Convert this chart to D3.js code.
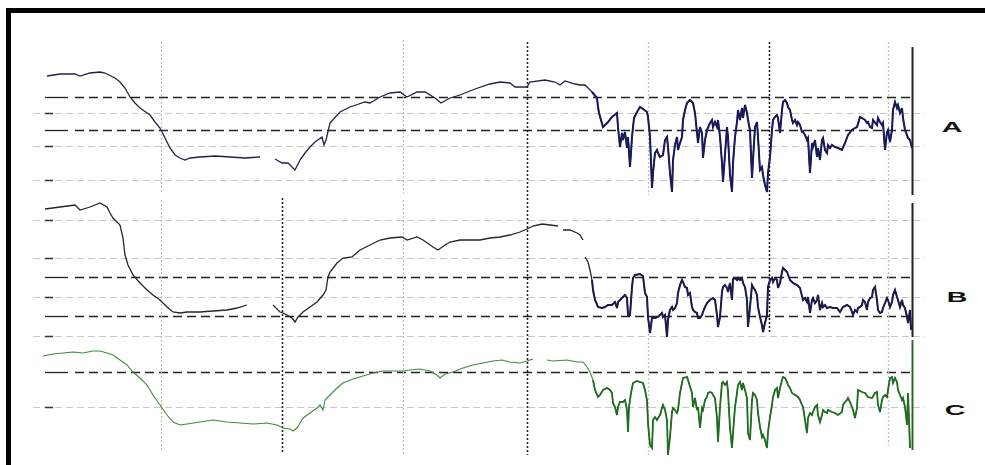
<!DOCTYPE html>
<html>
<head>
<meta charset="utf-8">
<script src="https://cdn.jsdelivr.net/npm/d3@7"></script>
<style>
  body { margin: 0; background: #fff; }
  svg { display: block; }
</style>
</head>
<body>
<div id="chart"></div>
<script>
// spectra, x in channels from the left edge of the trace, y in units down from the top of each panel
const traceA = [[0,16],[13,14],[28,14],[33,16],[43,13],[53,12],[58,13],[68,18],[73,22],[78,28],[83,37],[88,43],[93,48],[103,55],[108,62],[113,68],[118,78],[123,88],[128,95],[133,98],[138,100],[143,98],[153,97],[168,96],[183,97],[198,98],[213,97],null,
  [228,99],[235,103],[241,103],[248,110],[253,100],[258,93],[263,87],[268,82],[275,77],[277,85],[279,80],[283,63],[293,52],[303,47],[318,42],[323,43],[333,37],[343,33],[353,32],[360,37],[370,32],[378,32],[388,38],[394,43],[403,38],[413,35],[428,29],[443,24],[453,22],[463,23],[468,27],[480,27],[483,22],[498,20],[508,22],[513,25],[518,21],[528,24],[533,25],[538,25],[545,32],[550,38],[551,47],[552,53],[556,67],
  [561,62],[565,57],[570,53],[571,67],[573,87],[575,73],[576,80],[578,72],[580,88],[581,77],[583,107],[585,77],[587,58],[590,52],[593,47],[596,49],[600,52],[601,57],[603,77],[605,128],[606,113],[608,93],[610,90],[611,93],[613,97],[616,95],[618,80],[620,77],[621,87],[623,113],[625,132],[626,100],[628,85],[630,77],[631,90],[633,83],[635,77],[636,60],[638,50],[640,43],[643,40],[646,43],[648,53],[650,73],[651,83],[653,67],[655,73],[656,98],[658,80],[660,70],[663,63],[665,60],[666,67],[668,62],[670,67],[671,60],[673,77],[675,103],[676,122],[680,67],[681,77],[683,115],[685,132],[686,103],[688,77],[690,62],[691,50],[693,60],[695,48],[696,58],[698,45],[700,53],[701,60],[703,70],
  [705,118],[706,100],[708,67],[710,62],[711,77],[713,110],[715,107],[716,115],[718,125],[720,132],[721,113],[723,97],[725,70],[726,60],[728,57],[730,55],[731,58],[733,73],[735,50],[736,42],[738,40],[740,43],[741,47],[743,50],[745,60],[746,63],[748,60],[750,65],[751,62],[753,65],[755,72],[756,72],[758,75],[760,80],[761,78],[763,113],[765,83],[766,87],[768,80],[770,97],[771,88],[773,100],[775,80],[776,78],[778,90],[780,93],[781,85],[783,88],[785,85],[788,87],[791,88],[795,90],[798,83],[801,75],[805,70],[808,68],[810,67],[813,57],[815,58],[818,60],[820,63],[821,62],[823,67],[825,68],[826,60],[830,65],[831,58],[833,62],[835,65],[836,63],[838,90],[840,72],[841,70],[843,82],[845,70],[846,50],[848,42],[850,48],[851,45],[853,53],[855,48],[856,58],[858,70],[860,75],[861,78],[863,80],[865,88]];

const traceB = [[-2,9],[13,7],[28,5],[33,10],[43,7],[53,3],[60,7],[63,13],[66,18],[73,25],[76,38],[78,55],[81,65],[86,75],[93,83],[100,90],[106,95],[113,100],[120,107],[126,112],[133,113],[140,112],[153,112],[166,111],[180,110],[190,108],[200,105],null,
  [226,105],[233,112],[236,113],[240,115],[245,118],[248,122],[251,117],[256,112],[263,107],[270,102],[276,95],[279,90],[281,77],[283,72],[290,63],[296,58],[305,57],[313,50],[323,45],[333,40],[343,38],[355,37],[360,40],[370,37],[376,40],[386,47],[391,50],[398,45],[403,42],[413,40],[423,40],[433,40],[443,38],[453,37],[463,35],[473,32],[480,29],[486,26],[495,24],[503,25],[511,26],null,
  [516,30],[523,30],[530,33],[533,35],[536,40],null,
  [538,57],[541,62],[543,70],[545,80],[546,90],[548,100],[551,107],[555,108],[558,107],[561,105],[565,105],[568,102],[570,108],[571,102],[575,98],[578,95],[580,98],[581,115],[583,115],[585,87],[586,78],[588,75],[593,74],[596,76],[598,93],[600,97],[601,117],[603,133],[605,118],[608,118],[611,117],[613,115],[615,113],[616,117],[618,115],[620,137],[621,120],[623,110],[625,107],[626,110],[628,108],[630,103],[631,93],[633,85],[635,80],[636,82],[638,87],[640,88],[641,95],[643,93],[645,107],[646,110],[648,112],[650,113],[651,118],[653,118],[655,115],[656,112],[658,107],[660,103],[663,100],[666,98],[668,100],[670,115],[671,127],[673,117],[675,92],[676,87],[678,85],[680,88],[681,92],[683,83],[685,100],[686,79],[688,78],[690,80],[691,78],[693,80],[695,78],[696,83],[698,87],[700,100],[701,127],[703,107],
  [705,85],[706,87],[708,90],[710,95],[711,107],[713,117],[715,125],[716,132],[718,123],[720,115],[721,87],[723,80],[725,78],[726,82],[728,78],[730,80],[731,88],[733,83],[735,72],[736,68],[738,70],[740,72],null,
  [743,80],[746,83],[750,85],[753,88],null,
  [756,100],[758,98],[760,102],[761,97],[763,113],[765,100],[766,98],[768,103],[770,100],[771,95],[773,110],[775,103],[776,107],[778,105],[780,108],[783,107],[786,108],[790,108],[793,112],[796,107],[800,105],[803,107],[805,112],[806,115],[808,110],[810,112],[811,108],[813,107],[815,105],[816,100],[818,102],[820,110],[821,102],[823,98],[825,97],[826,90],[828,87],[830,100],[831,110],[833,113],[835,112],[836,108],[838,103],[840,98],[841,100],[843,107],[845,102],[846,95],[848,90],[850,97],[851,100],[853,107],[855,100],[856,105],[858,108],[860,117],[861,123],[863,110],[864,130]];

const traceC = [[-4,16],[6,14],[16,13],[26,12],[36,13],[46,11],[53,11],[60,13],[66,15],[73,20],[80,25],[86,32],[93,38],[100,45],[106,55],[113,65],[120,75],[126,82],[133,85],[140,84],[153,82],[166,80],[180,82],[193,83],[206,84],[220,83],[230,85],[236,88],[243,89],[246,91],[250,88],[253,83],[256,78],[263,73],[270,68],[273,65],[276,70],[278,60],[280,58],[283,55],[290,48],[296,43],[306,39],[316,36],[326,33],[336,31],[346,31],[356,31],[363,30],[373,29],[383,31],[390,35],[393,38],[398,34],[406,32],[416,28],[426,25],[436,23],[446,21],[455,20],[463,22],[473,23],[480,21],[486,19],null,
  [500,20],[506,21],[520,20],[530,22],[536,22],[540,27],[543,32],[546,40],[548,50],[551,57],[553,55],[556,50],[560,48],[563,50],[565,53],[566,63],[568,67],[570,75],[571,67],[573,62],[576,62],[578,60],[580,70],[581,92],[582,67],[584,53],[586,43],[590,41],[593,42],[596,43],[598,50],[600,60],[601,83],[603,105],[605,108],[606,80],[608,77],[610,80],[611,78],[613,75],[615,68],[616,65],[618,70],[620,80],[621,115],[623,97],[625,72],[626,68],[628,70],[630,73],[631,70],[633,53],[635,43],[636,38],[640,37],[641,40],[645,53],[646,67],[648,58],[650,70],[651,67],[653,88],[655,68],[656,70],[658,60],[660,57],[661,53],[663,52],[665,53],[666,55],[668,58],[670,78],[671,102],[673,67],[675,43],[676,42],[678,45],[680,42],[681,52],[683,88],[685,108],[686,93],[688,67],[690,53],[691,45],[693,42],[695,50],[696,43],[698,50],[700,58],[701,93],[703,100],
  [705,60],[706,53],[708,55],[710,60],[711,73],[713,87],[715,97],[716,95],[718,100],[720,108],[721,92],[723,77],[725,65],[726,57],[728,50],[730,48],[731,58],[733,48],[735,40],[736,37],[738,38],[740,42],[741,45],[743,48],[745,53],[748,55],[751,57],[753,60],[755,65],[756,67],[758,80],[760,93],[761,78],[763,73],[765,75],[766,72],[768,67],[770,65],[771,75],[773,82],[775,75],[776,70],[778,72],[780,73],[781,70],[785,72],[788,73],[791,75],[795,72],[796,65],[798,62],[800,60],[801,58],[803,62],[805,67],[806,70],[808,78],[810,68],[811,50],[815,52],[818,53],[821,57],[825,58],[828,53],[830,52],[831,65],[833,72],[835,60],[836,57],[838,55],[840,57],[841,50],[843,38],[845,37],[846,43],[848,38],[850,42],[851,50],[853,55],[855,60],[856,58],[858,67],[860,85],[861,53],[862,80],[863,108]];

const labels = ["A", "B", "C"];

// horizontal reference levels per panel (same units as the traces)
const darkLevelsA = [37, 70];
const lightLevelsA = [53, 86, 120];
const darkLevelsB = [77, 116];
const lightLevelsB = [20, 58, 97, 136];
const darkLevelsC = [32];
const lightLevelsC = [67];

// vertical markers in channel units
const lightMarks = [114, 356, 601, 841];
const darkMarks = [235, 480, 722];
const endMark = 865;
// where the noisy (heavier) part of the spectra starts
const noisyFrom = 545;

const width = 985;
const height = 465;

const svg = d3.select("#chart").append("svg").attr("width", width).attr("height", height);

const x = d3.scaleLinear().domain([0, 866]).range([47, 913]);
const panelTops = [60, 200, 340];
const yScales = panelTops.map(t => d3.scaleLinear().domain([0, 150]).range([t, t + 150]));
const [yA, yB, yC] = yScales;

// frame (only top and left edges are in the picture)
svg.append("rect").attr("x", 6).attr("y", 8).attr("width", width - 6).attr("height", 5).attr("fill", "#000");
svg.append("rect").attr("x", 6).attr("y", 8).attr("width", 5).attr("height", height - 8).attr("fill", "#000");

const grid = svg.append("g");

function lightLine(y){
    grid.append("line").attr("x1", 33).attr("x2", 925).attr("y1", y).attr("y2", y)
        .attr("stroke", "#c8c8c8").attr("stroke-width", 1).attr("stroke-dasharray", "7,4");
    grid.append("line").attr("x1", 45).attr("x2", 53).attr("y1", y).attr("y2", y)
        .attr("stroke", "#333").attr("stroke-width", 1.5);
}

function darkLine(y){
    grid.append("line").attr("x1", 45).attr("x2", 68).attr("y1", y).attr("y2", y)
        .attr("stroke", "#222").attr("stroke-width", 1.3);
    grid.append("line").attr("x1", 75).attr("x2", 911).attr("y1", y).attr("y2", y)
        .attr("stroke", "#222").attr("stroke-width", 1.3).attr("stroke-dasharray", "9,5");
}

lightLevelsA.forEach(v => lightLine(Math.round(yA(v)) + 0.5));
lightLevelsB.forEach(v => lightLine(Math.round(yB(v)) + 0.5));
lightLevelsC.forEach(v => lightLine(Math.round(yC(v)) + 0.5));
darkLevelsA.forEach(v => darkLine(Math.round(yA(v)) + 0.5));
darkLevelsB.forEach(v => darkLine(Math.round(yB(v)) + 0.5));
darkLevelsC.forEach(v => darkLine(Math.round(yC(v)) + 0.5));

// vertical extents of each marker, in pixels
const lightSpans = [[[42, 192], [200, 452]], [[40, 193], [200, 455]], [[42, 195], [330, 455]], [[42, 195], [200, 445]]];
const darkSpans = [[[198, 452]], [[42, 455]], [[42, 333]]];

function vLine(xv, spans, color, w){
    const px = Math.round(x(xv)) + 0.5;
    spans.forEach(([a, b]) => {
        grid.append("line").attr("x1", px).attr("x2", px).attr("y1", a).attr("y2", b)
            .attr("stroke", color).attr("stroke-width", w).attr("stroke-dasharray", "2,2");
    });
}

lightMarks.forEach((m, i) => vLine(m, lightSpans[i], "#bdbdbd", 1.2));
darkMarks.forEach((m, i) => vLine(m, darkSpans[i], "#222", 1.6));

const line = d3.line().defined(d => d).x(d => x(d[0]));

function drawTrace(data, yScale, color, w){
    svg.append("path")
        .datum(data)
        .attr("fill", "none")
        .attr("stroke", color)
        .attr("stroke-width", w)
        .attr("stroke-linejoin", "miter")
        .attr("d", line.y(d => yScale(d[1])));
}

// light part first, then the heavy noisy region on top
drawTrace(traceA, yA, "#22224a", 1.3);
drawTrace(traceB, yB, "#262626", 1.3);
drawTrace(traceC, yC, "#3f8a3f", 1.1);
drawTrace(traceA.filter(d => d && d[0] >= noisyFrom), yA, "#1a1a5a", 2);
drawTrace(traceB.filter(d => d && d[0] >= noisyFrom), yB, "#1c1c4c", 2);
drawTrace(traceC.filter(d => d && d[0] >= noisyFrom), yC, "#226b22", 1.8);

// end marker
const ex = Math.round(x(endMark)) + 0.5;
svg.append("line").attr("x1", ex).attr("x2", ex).attr("y1", 47).attr("y2", 195).attr("stroke", "#222").attr("stroke-width", 2);
svg.append("line").attr("x1", ex).attr("x2", ex).attr("y1", 203).attr("y2", 337).attr("stroke", "#222").attr("stroke-width", 2);
svg.append("line").attr("x1", ex).attr("x2", ex).attr("y1", 340).attr("y2", 450).attr("stroke", "#2c6a2c").attr("stroke-width", 2);

// panel labels
const labelPos = [[952, 132], [957, 302], [955, 415]];
labels.forEach((t, i) => {
    svg.append("text")
        .attr("transform", `translate(${labelPos[i][0]},${labelPos[i][1]}) scale(1.9,1)`)
        .attr("text-anchor", "middle")
        .attr("font-family", "Liberation Sans, Arial, sans-serif")
        .attr("font-weight", "bold")
        .attr("font-size", 15)
        .attr("fill", "#111")
        .text(t);
});
</script>
</body>
</html>
